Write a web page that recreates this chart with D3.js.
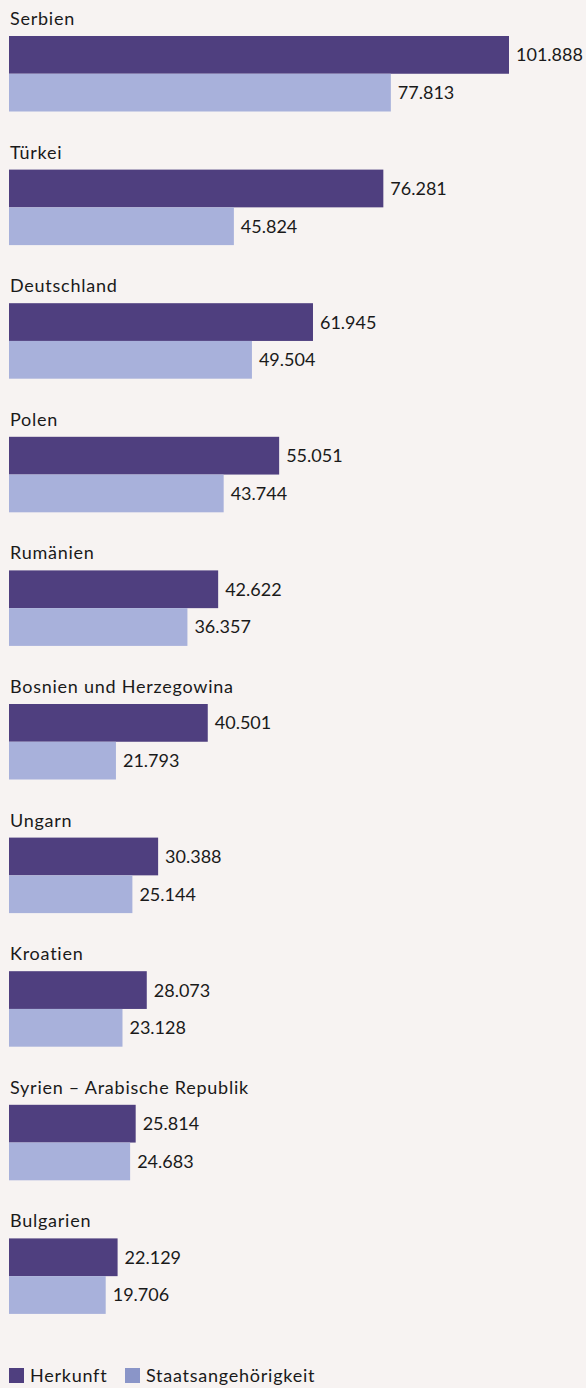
<!DOCTYPE html>
<html>
<head>
<meta charset="utf-8">
<script src="https://cdn.jsdelivr.net/npm/d3@7"></script>
<style>
  html, body { margin: 0; padding: 0; background: #f7f3f2; }
  svg { display: block; }
  text { font-family: Lato, "Open Sans", sans-serif; fill: #1a1a1a; }
  .label { letter-spacing: 0.75px; }
</style>
</head>
<body>
<svg id="chart" width="586" height="1388"></svg>
<script>
const categories = ["Serbien", "Türkei", "Deutschland", "Polen", "Rumänien",
  "Bosnien und Herzegowina", "Ungarn", "Kroatien", "Syrien – Arabische Republik", "Bulgarien"];
const herkunft = [101888, 76281, 61945, 55051, 42622, 40501, 30388, 28073, 25814, 22129];
const staatsangehoerigkeit = [77813, 45824, 49504, 43744, 36357, 21793, 25144, 23128, 24683, 19706];
const seriesNames = ["Herkunft", "Staatsangehörigkeit"];

const barColors = ["#4f3f7f", "#a8b1db"];
const legendColors = ["#4f3f7f", "#8a95c8"];

const svg = d3.select("#chart");
const fmt = v => d3.format(",")(v).replace(/,/g, ".");

const rows = categories.map((c, i) => ({ name: c, values: [herkunft[i], staatsangehoerigkeit[i]] }));

const x = d3.scaleLinear()
  .domain([0, d3.max(herkunft.concat(staatsangehoerigkeit))])
  .range([9, 509]);

const y = d3.scaleBand()
  .domain(categories)
  .range([36, 36 + 133.6 * categories.length])
  .paddingInner(0);

const ySub = d3.scaleBand()
  .domain(seriesNames)
  .range([0, 75.5]);

const groups = svg.selectAll("g.group")
  .data(rows)
  .join("g")
  .attr("class", "group")
  .attr("transform", d => `translate(0,${y(d.name)})`);

groups.append("text")
  .attr("class", "label")
  .attr("x", 10)
  .attr("y", -11)
  .attr("font-size", 18)
  .text(d => d.name);

const bars = groups.selectAll("g.bar")
  .data(d => d.values.map((v, k) => ({ v, k })))
  .join("g")
  .attr("class", "bar");

bars.append("rect")
  .attr("x", x(0))
  .attr("y", d => ySub(seriesNames[d.k]))
  .attr("width", d => x(d.v) - x(0))
  .attr("height", ySub.bandwidth())
  .attr("fill", d => barColors[d.k]);

bars.append("text")
  .attr("x", d => x(d.v) + 7)
  .attr("y", d => ySub(seriesNames[d.k]) + ySub.bandwidth() / 2)
  .attr("dy", "0.36em")
  .attr("font-size", 18)
  .text(d => fmt(d.v));

// Legend
const legend = svg.append("g").attr("transform", "translate(9,1368)");
const legendX = [0, 116];
seriesNames.forEach((s, k) => {
  const g = legend.append("g").attr("transform", `translate(${legendX[k]},0)`);
  g.append("rect").attr("width", 15).attr("height", 15).attr("fill", legendColors[k]);
  g.append("text").attr("class", "label").attr("x", 21).attr("y", 14).attr("font-size", 18).text(s);
});
</script>
</body>
</html>
